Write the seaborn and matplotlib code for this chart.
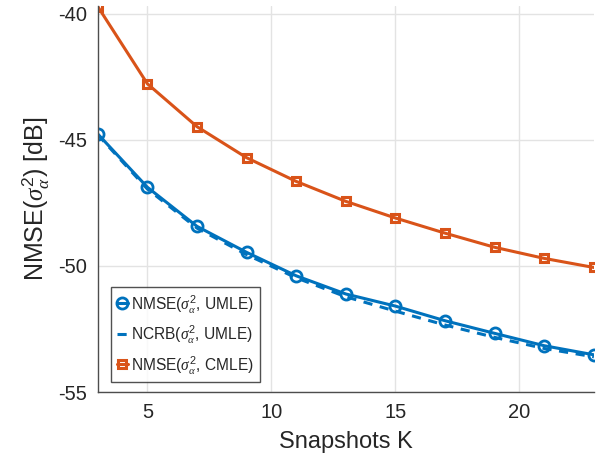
import numpy as np
import pandas as pd
import matplotlib
matplotlib.use("Agg")
import matplotlib.pyplot as plt
import seaborn as sns

# data
snapshots = [3, 5, 7, 9, 11, 13, 15, 17, 19, 21, 23]
nmse_umle = [-44.77, -46.88, -48.43, -49.46, -50.39, -51.11, -51.59, -52.17, -52.67, -53.16, -53.52]
ncrb_umle = [-44.80, -46.95, -48.50, -49.55, -50.47, -51.22, -51.79, -52.34, -52.83, -53.27, -53.60]
nmse_cmle = [-39.72, -42.78, -44.48, -45.71, -46.65, -47.44, -48.10, -48.70, -49.26, -49.70, -50.06]

labels = [r"NMSE($\sigma^2_\alpha$, UMLE)",
          r"NCRB($\sigma^2_\alpha$, UMLE)",
          r"NMSE($\sigma^2_\alpha$, CMLE)"]

blue = "#0072BD"
orange = "#D95319"

sns.set_theme(style="white")
plt.rcParams['font.family'] = ['Liberation Sans', 'DejaVu Sans']
plt.rcParams['axes.unicode_minus'] = False
plt.rcParams['mathtext.fontset'] = 'custom'
plt.rcParams['mathtext.rm'] = 'Liberation Sans'
plt.rcParams['mathtext.it'] = 'Liberation Serif:italic'

fig = plt.figure(figsize=(6.11, 4.63), dpi=100)
ax = fig.add_axes([0.160, 0.153, 0.812, 0.834])

df = pd.DataFrame({"K": snapshots, "umle": nmse_umle, "ncrb": ncrb_umle, "cmle": nmse_cmle})

sns.lineplot(data=df, x="K", y="umle", ax=ax, color=blue, lw=2.2, marker="o",
             markersize=8, markerfacecolor="none", markeredgecolor=blue,
             markeredgewidth=2, label=labels[0])
sns.lineplot(data=df, x="K", y="ncrb", ax=ax, color=blue, lw=2.2, dashes=(3, 2.5),
             label=labels[1])
sns.lineplot(data=df, x="K", y="cmle", ax=ax, color=orange, lw=2.2, marker="s",
             markersize=5.5, markerfacecolor="none", markeredgecolor=orange,
             markeredgewidth=2.2, label=labels[2])

ax.set_xlim(3, 23)
ax.set_ylim(-55, -39.7)
ax.set_xticks([5, 10, 15, 20])
ax.set_yticks([-55, -50, -45, -40])
ax.grid(True, color="#e3e3e3", lw=1)
ax.set_axisbelow(True)

for side in ["top", "right"]:
    ax.spines[side].set_visible(False)
for side in ["left", "bottom"]:
    ax.spines[side].set_color("#4d4d4d")
    ax.spines[side].set_linewidth(1)

ax.tick_params(direction="in", length=5, width=1, colors="#4d4d4d",
               labelcolor="#262626", labelsize=14.5, pad=8)

ax.set_xlabel("Snapshots K", fontsize=17, color="#262626", labelpad=6)
ax.set_ylabel(r"NMSE($\sigma^2_\alpha$) [dB]", fontsize=18, color="#262626", labelpad=5)

leg = ax.legend(loc="lower left", bbox_to_anchor=(0.026, 0.026), fontsize=11.2,
                frameon=True, fancybox=False, edgecolor="#262626",
                handlelength=0.7, handletextpad=0.2, borderpad=0.4,
                labelspacing=0.55, borderaxespad=0)
leg.get_frame().set_linewidth(1)

fig.savefig("out.png", dpi=100)
